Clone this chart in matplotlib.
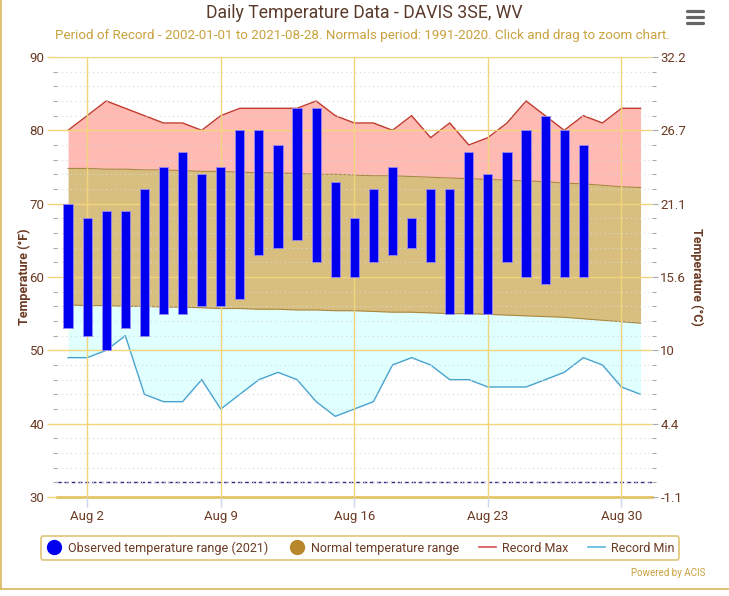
import matplotlib
matplotlib.use("Agg")
import matplotlib.pyplot as plt
from matplotlib.lines import Line2D
import numpy as np

plt.rcParams['font.family'] = ['Roboto', 'DejaVu Sans']

days = list(range(1, 32))
obs_days = list(range(1, 29))
obs_max = [70, 68, 69, 69, 72, 75, 77, 74, 75, 80, 80, 78, 83, 83, 73, 68, 72, 75, 68, 72,
           72, 77, 74, 77, 80, 82, 80, 78]
obs_min = [53, 52, 50, 53, 52, 55, 55, 56, 56, 57, 63, 64, 65, 62, 60, 60, 62, 63, 64, 62,
           55, 55, 55, 62, 60, 59, 60, 60]
rec_max = [80, 82, 84, 83, 82, 81, 81, 80, 82, 83, 83, 83, 83, 84, 82, 81, 81, 80, 82, 79,
           81, 78, 79, 81, 84, 82, 80, 82, 81, 83, 83]
rec_min = [49, 49, 50, 52, 44, 43, 43, 46, 42, 44, 46, 47, 46, 43, 41, 42, 43, 48, 49, 48,
           46, 46, 45, 45, 45, 46, 47, 49, 48, 45, 44]
norm_max = [74.8, 74.8, 74.7, 74.7, 74.6, 74.6, 74.5, 74.4, 74.4, 74.3, 74.2, 74.2, 74.1, 74.0,
            74.0, 73.9, 73.8, 73.8, 73.7, 73.6, 73.5, 73.4, 73.3, 73.2, 73.1, 73.0, 72.8, 72.7,
            72.5, 72.3, 72.2]
norm_min = [56.2, 56.1, 56.1, 56.0, 56.0, 55.9, 55.9, 55.8, 55.7, 55.7, 55.6, 55.6, 55.5, 55.5,
            55.4, 55.4, 55.3, 55.2, 55.2, 55.1, 55.0, 55.0, 54.9, 54.8, 54.7, 54.6, 54.5, 54.3,
            54.1, 53.9, 53.7]
xtick_days = [2, 9, 16, 23, 30]
xtick_labels = ["Aug 2", "Aug 9", "Aug 16", "Aug 23", "Aug 30"]
f_ticks = [30, 40, 50, 60, 70, 80, 90]
c_labels = ["-1.1", "4.4", "10", "15.6", "21.1", "26.7", "32.2"]
freeze = 32

brown = "#6b3a22"
gold = "#f2d57a"

fig = plt.figure(figsize=(7.29, 5.96), dpi=100)
ax = fig.add_axes([0.0782, 0.1661, 0.8162, 0.7383])

ax.fill_between(days, norm_max, rec_max, color="#ffbab4", lw=0, zorder=1)
ax.fill_between(days, norm_min, norm_max, color="#d9bf7f", lw=0, zorder=1)
ax.fill_between(days, rec_min, norm_min, color="#e0ffff", lw=0, zorder=1)
ax.plot(days, norm_max, color="#a88840", lw=0.8, zorder=1.2)
ax.plot(days, norm_min, color="#a88840", lw=0.8, zorder=1.2)
ax.plot(days, rec_max, color="#c0392b", lw=1.0, zorder=2.5)
ax.plot(days, rec_min, color="#4aa3cf", lw=1.0, zorder=2.5)

heights = [a - b for a, b in zip(obs_max, obs_min)]
ax.bar(obs_days, heights, bottom=obs_min, width=0.48, color="#0000ee",
       edgecolor="#9a88f0", linewidth=0.6, zorder=3)

ax.axhline(freeze, color="#2a2a80", lw=1.0, ls=(0, (3, 2)), zorder=2)

ax.set_xlim(0.42, 31.6)
ax.set_ylim(30, 90)
ax.set_yticks(f_ticks)
ax.set_yticks(np.arange(32, 90, 2), minor=True)
ax.set_xticks(xtick_days)
ax.set_xticklabels(xtick_labels)

ax.grid(True, which="major", axis="both", color=gold, lw=1.0, zorder=1.5)
ax.grid(True, which="minor", axis="y", color="#d8d8d8", lw=0.8, ls=(0, (1, 3)), zorder=1.5)
ax.set_axisbelow(False)
for l in ax.get_xgridlines() + ax.get_ygridlines():
    l.set_zorder(1.5)

for s in ["top", "right", "left"]:
    ax.spines[s].set_visible(False)
ax.spines["bottom"].set_color("#e3c465")
ax.spines["bottom"].set_linewidth(2)

ax.tick_params(axis="y", which="major", length=7, color=gold, width=1,
               labelsize=9.5, labelcolor=brown, pad=2)
ax.tick_params(axis="y", which="minor", length=3, color="#aaaaaa", width=0.8)
ax.tick_params(axis="x", which="major", length=7, color="#ccd6eb", width=1,
               labelsize=9.5, labelcolor=brown, pad=2)

ax.set_ylabel("Temperature (°F)", color=brown, fontsize=9, fontweight="bold", labelpad=-1)

ax2 = ax.twinx()
ax2.set_ylim(30, 90)
ax2.set_yticks(f_ticks)
ax2.set_yticklabels(c_labels)
ax2.set_yticks(np.arange(32, 90, 2), minor=True)
for s in ["top", "right", "left", "bottom"]:
    ax2.spines[s].set_visible(False)
ax2.tick_params(axis="y", which="major", length=4, color="#aaaaaa", width=0.8,
                labelsize=9.5, labelcolor=brown, pad=2)
ax2.tick_params(axis="y", which="minor", length=3, color="#aaaaaa", width=0.8)
ax2.set_ylabel("Temperature (°C)", color=brown, fontsize=9, fontweight="bold",
               rotation=-90, labelpad=12)

fig.text(0.5, 0.978, "Daily Temperature Data - DAVIS 3SE, WV", ha="center", va="center",
         fontsize=12.7, color="#5a3a2a")
fig.text(0.497, 0.940,
         "Period of Record - 2002-01-01 to 2021-08-28. Normals period: 1991-2020. Click and drag to zoom chart.",
         ha="center", va="center", fontsize=9.6, color="#c9a13e")

# menu icon
for yy in [0.9815, 0.9715, 0.9614]:
    fig.add_artist(Line2D([0.942, 0.964], [yy, yy], color="#666666", lw=2.3,
                          solid_capstyle="round"))

handles = [
    Line2D([], [], marker="o", ls="none", color="#0000ee", markersize=10),
    Line2D([], [], marker="o", ls="none", color="#b8862b", markersize=10),
    Line2D([], [], color="#d9534f", lw=1.2),
    Line2D([], [], color="#5bb8de", lw=1.2),
]
labels = ["Observed temperature range (2021)", "Normal temperature range",
          "Record Max", "Record Min"]
leg = fig.legend(handles, labels, loc="center", bbox_to_anchor=(0.494, 0.0805), ncol=4,
                 frameon=True, fancybox=True, fontsize=9, labelcolor=brown,
                 handlelength=1.3, handletextpad=0.5, columnspacing=1.6,
                 borderpad=0.4, edgecolor="#d9b650")
leg.get_frame().set_linewidth(1.2)

fig.text(0.967, 0.038, "Powered by ACIS", ha="right", va="center", fontsize=7,
         color="#c9a13e")

# outer border (left and bottom visible)
fig.add_artist(Line2D([0.0015, 0.0015], [0.012, 1.0], color="#d9b65a", lw=1.2))
fig.add_artist(Line2D([0.0015, 1.0], [0.012, 0.012], color="#d9b65a", lw=1.2))

fig.savefig("out.png", dpi=100)
